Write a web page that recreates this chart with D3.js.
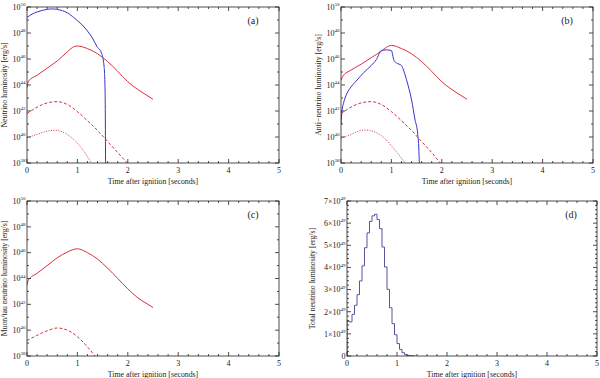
<!DOCTYPE html>
<html>
<head>
<meta charset="utf-8">
<script src="https://cdn.jsdelivr.net/npm/d3@7"></script>
<style>
  body { margin: 0; background: #fff; }
  text { font-family: "Liberation Serif", "DejaVu Serif", serif; fill: #222; }
</style>
</head>
<body>
<div id="chart"></div>
<script>
// Panel (a) neutrino luminosity, values are log10(L [erg/s])
var aBlueT = [0, 0.1, 0.2, 0.3, 0.4, 0.5, 0.6, 0.7, 0.8, 0.9, 1.0, 1.1, 1.2, 1.3, 1.39, 1.48, 1.53, 1.55, 1.555, 1.56];
var aBlueLog = [49.2, 49.45, 49.62, 49.74, 49.82, 49.85, 49.82, 49.72, 49.55, 49.28, 48.95, 48.6, 48.15, 47.6, 46.95, 46.44, 45.4, 43.4, 41.0, 37.0];
var aRedT = [0, 0.03, 0.2, 0.4, 0.6, 0.8, 0.9, 1.0, 1.2, 1.4, 1.6, 1.8, 2.0, 2.2, 2.4, 2.5];
var aRedLog = [43.8, 44.3, 44.75, 45.3, 45.85, 46.55, 46.88, 47.0, 46.8, 46.4, 45.8, 45.05, 44.25, 43.65, 43.15, 42.9];
var aDashT = [0, 0.2, 0.4, 0.6, 0.8, 1.0, 1.2, 1.4, 1.6, 1.8, 2.0];
var aDashLog = [41.8, 42.3, 42.62, 42.72, 42.5, 41.95, 41.25, 40.5, 39.65, 38.8, 37.95];
var aDotT = [0, 0.2, 0.4, 0.55, 0.7, 0.9, 1.1, 1.28];
var aDotLog = [39.95, 40.2, 40.45, 40.52, 40.4, 39.9, 39.05, 38.0];

// Panel (b) anti-neutrino luminosity
var bBlueT = [0, 0.02, 0.05, 0.1, 0.18, 0.3, 0.45, 0.6, 0.7, 0.8, 0.9, 1.0, 1.05, 1.1, 1.2, 1.24, 1.3, 1.4, 1.47, 1.52, 1.55, 1.56];
var bBlueLog = [41.0, 42.0, 42.6, 43.2, 43.75, 44.3, 44.95, 45.5, 45.95, 46.65, 46.7, 46.65, 45.9, 45.7, 45.5, 45.15, 44.4, 42.85, 41.3, 40.3, 38.5, 37.0];
var bRedT = [0, 0.04, 0.2, 0.4, 0.6, 0.8, 0.9, 1.0, 1.2, 1.4, 1.6, 1.8, 2.0, 2.2, 2.4, 2.5];
var bRedLog = [44.35, 44.7, 45.15, 45.6, 46.1, 46.6, 46.9, 47.05, 46.8, 46.4, 45.8, 45.05, 44.25, 43.65, 43.15, 42.9];
var bDashT = [0, 0.2, 0.4, 0.6, 0.8, 1.0, 1.2, 1.4, 1.6, 1.8, 1.97];
var bDashLog = [41.8, 42.3, 42.62, 42.72, 42.5, 41.95, 41.25, 40.5, 39.65, 38.8, 38.0];
var bDotT = [0, 0.2, 0.35, 0.48, 0.65, 0.85, 1.05, 1.27];
var bDotLog = [39.9, 40.2, 40.45, 40.54, 40.42, 39.95, 39.1, 38.0];

// Panel (c) muon/tau neutrino luminosity
var cRedT = [0, 0.03, 0.2, 0.4, 0.6, 0.8, 1.0, 1.2, 1.4, 1.6, 1.8, 2.0, 2.2, 2.4, 2.5];
var cRedLog = [43.5, 43.9, 44.4, 45.0, 45.6, 46.05, 46.3, 46.0, 45.5, 44.8, 44.0, 43.2, 42.5, 42.0, 41.75];
var cDashT = [0, 0.2, 0.4, 0.6, 0.8, 1.0, 1.2, 1.35];
var cDashLog = [39.2, 39.6, 39.95, 40.17, 40.0, 39.5, 38.7, 38.0];

// Panel (d) total neutrino luminosity histogram, 0.05 s bins, units of 1e49 erg/s
var dBinWidth = 0.05;
var dValues = [1.57, 1.54, 1.88, 2.29, 2.77, 3.39, 4.07, 4.89, 5.56, 6.08, 6.33, 6.40, 6.16, 5.75, 4.92, 4.02, 3.01, 2.18, 1.46, 0.96, 0.56, 0.30, 0.15, 0.06, 0.03, 0.015, 0.005];

var timeTicks = [0, 1, 2, 3, 4, 5];
var logTicks = [38, 40, 42, 44, 46, 48, 50];
var linTicks = [0, 1, 2, 3, 4, 5, 6, 7];

var blue = "#3434c8";
var red = "#d8303e";
var histColor = "#55559f";

var svg = d3.select("#chart").append("svg")
    .attr("width", 600)
    .attr("height", 378);

var defs = svg.append("defs");

function toSeries(ts, logs) {
    return ts.map(function(t, i) { return { t: t, v: Math.pow(10, logs[i]) }; });
}

function drawPanel(p) {
    var x = d3.scaleLinear().domain([0, 5]).range([p.left, p.right]);
    var y = p.log
        ? d3.scaleLog().domain([1e38, 1e50]).range([p.bottom, p.top])
        : d3.scaleLinear().domain([0, 7]).range([p.bottom, p.top]);

    defs.append("clipPath").attr("id", "clip-" + p.id)
        .append("rect")
        .attr("x", p.left).attr("y", p.top)
        .attr("width", p.right - p.left).attr("height", p.bottom - p.top);

    var g = svg.append("g");
    var plot = g.append("g").attr("clip-path", "url(#clip-" + p.id + ")");

    var line = d3.line()
        .x(function(d) { return x(d.t); })
        .y(function(d) { return y(d.v); })
        .curve(d3.curveMonotoneX);

    p.series.forEach(function(s) {
        plot.append("path")
            .datum(s.data)
            .attr("d", line)
            .attr("fill", "none")
            .attr("stroke", s.color)
            .attr("stroke-width", 1)
            .attr("stroke-dasharray", s.dash || null);
    });

    if (p.hist) {
        var pts = [{ t: 0, v: 0 }];
        p.hist.forEach(function(v, i) {
            pts.push({ t: i * dBinWidth, v: v });
            pts.push({ t: (i + 1) * dBinWidth, v: v });
        });
        pts.push({ t: p.hist.length * dBinWidth, v: 0 });
        plot.append("path")
            .datum(pts)
            .attr("d", d3.line().x(function(d) { return x(d.t); }).y(function(d) { return y(d.v); }))
            .attr("fill", "none")
            .attr("stroke", histColor)
            .attr("stroke-width", 1);
    }

    // frame with inward ticks on all four sides
    var frame = g.append("g").attr("stroke", "#222").attr("stroke-width", 0.8);
    frame.append("rect")
        .attr("x", p.left).attr("y", p.top)
        .attr("width", p.right - p.left).attr("height", p.bottom - p.top)
        .attr("fill", "none");

    var xMinor = d3.range(0, 5.001, 0.2);
    xMinor.forEach(function(t) {
        var major = Math.abs(t - Math.round(t)) < 1e-6;
        var len = major ? 4 : 2;
        frame.append("line").attr("x1", x(t)).attr("x2", x(t)).attr("y1", p.bottom).attr("y2", p.bottom - len);
        frame.append("line").attr("x1", x(t)).attr("x2", x(t)).attr("y1", p.top).attr("y2", p.top + len);
    });

    var yTickVals = p.log
        ? d3.range(38, 50.001, 1).map(function(e) { return { v: Math.pow(10, e), major: e % 2 === 0 }; })
        : d3.range(0, 7.001, 0.2).map(function(v) { return { v: v, major: Math.abs(v - Math.round(v)) < 1e-6 }; });
    yTickVals.forEach(function(d) {
        var len = d.major ? 4 : 2;
        frame.append("line").attr("x1", p.left).attr("x2", p.left + len).attr("y1", y(d.v)).attr("y2", y(d.v));
        frame.append("line").attr("x1", p.right).attr("x2", p.right - len).attr("y1", y(d.v)).attr("y2", y(d.v));
    });

    // x tick labels
    g.selectAll("text.xtick")
        .data(timeTicks)
        .enter().append("text")
        .attr("class", "xtick")
        .attr("x", function(d) { return x(d); })
        .attr("y", p.bottom + 9.5)
        .attr("text-anchor", "middle")
        .attr("font-size", "8px")
        .text(function(d) { return d; });

    // y tick labels
    if (p.log) {
        logTicks.forEach(function(e) {
            var t = g.append("text")
                .attr("x", p.left - 1.5)
                .attr("y", y(Math.pow(10, e)) + 2.8)
                .attr("text-anchor", "end")
                .attr("font-size", "8px");
            t.append("tspan").text("10");
            t.append("tspan").attr("dy", -3.5).attr("font-size", "5px").text(e);
        });
    } else {
        linTicks.forEach(function(v) {
            var t = g.append("text")
                .attr("x", p.left - 1.5)
                .attr("y", y(v) + 2.8)
                .attr("text-anchor", "end")
                .attr("font-size", "8px");
            if (v === 0) {
                t.text("0");
            } else {
                t.append("tspan").text(v + "\u00d710");
                t.append("tspan").attr("dy", -3.5).attr("font-size", "5px").text("49");
            }
        });
    }

    // axis titles
    g.append("text")
        .attr("x", (p.left + p.right) / 2)
        .attr("y", p.bottom + 21)
        .attr("text-anchor", "middle")
        .attr("font-size", "7.8px")
        .text("Time after ignition [seconds]");

    g.append("text")
        .attr("transform", "translate(" + p.ylabelX + "," + ((p.top + p.bottom) / 2) + ") rotate(-90)")
        .attr("text-anchor", "middle")
        .attr("font-size", "7.8px")
        .text(p.ylabel);

    // panel letter
    g.append("text")
        .attr("x", p.right - 26)
        .attr("y", p.top + 17)
        .attr("text-anchor", "middle")
        .attr("font-size", "10px")
        .text(p.letter);
}

drawPanel({
    id: "a", letter: "(a)", log: true,
    left: 27, right: 279, top: 7, bottom: 163, ylabelX: 7,
    ylabel: "Neutrino luminosity [erg/s]",
    series: [
        { data: toSeries(aBlueT, aBlueLog), color: blue },
        { data: toSeries(aRedT, aRedLog), color: red },
        { data: toSeries(aDashT, aDashLog), color: red, dash: "3,2" },
        { data: toSeries(aDotT, aDotLog), color: red, dash: "1,1.5" }
    ]
});

drawPanel({
    id: "b", letter: "(b)", log: true,
    left: 341, right: 593, top: 7, bottom: 163, ylabelX: 321,
    ylabel: "Anti\u2212neutrino luminosity [erg/s]",
    series: [
        { data: toSeries(bRedT, bRedLog), color: red },
        { data: toSeries(bBlueT, bBlueLog), color: blue },
        { data: toSeries(bDashT, bDashLog), color: red, dash: "3,2" },
        { data: toSeries(bDotT, bDotLog), color: red, dash: "1,1.5" }
    ]
});

drawPanel({
    id: "c", letter: "(c)", log: true,
    left: 27, right: 279, top: 201, bottom: 356, ylabelX: 7,
    ylabel: "Muon/tau neutrino luminosity [erg/s]",
    series: [
        { data: toSeries(cRedT, cRedLog), color: red },
        { data: toSeries(cDashT, cDashLog), color: red, dash: "3,2" }
    ]
});

drawPanel({
    id: "d", letter: "(d)", log: false,
    left: 347, right: 597, top: 201, bottom: 356, ylabelX: 315,
    ylabel: "Total neutrino luminosity [erg/s]",
    series: [],
    hist: dValues
});
</script>
</body>
</html>
